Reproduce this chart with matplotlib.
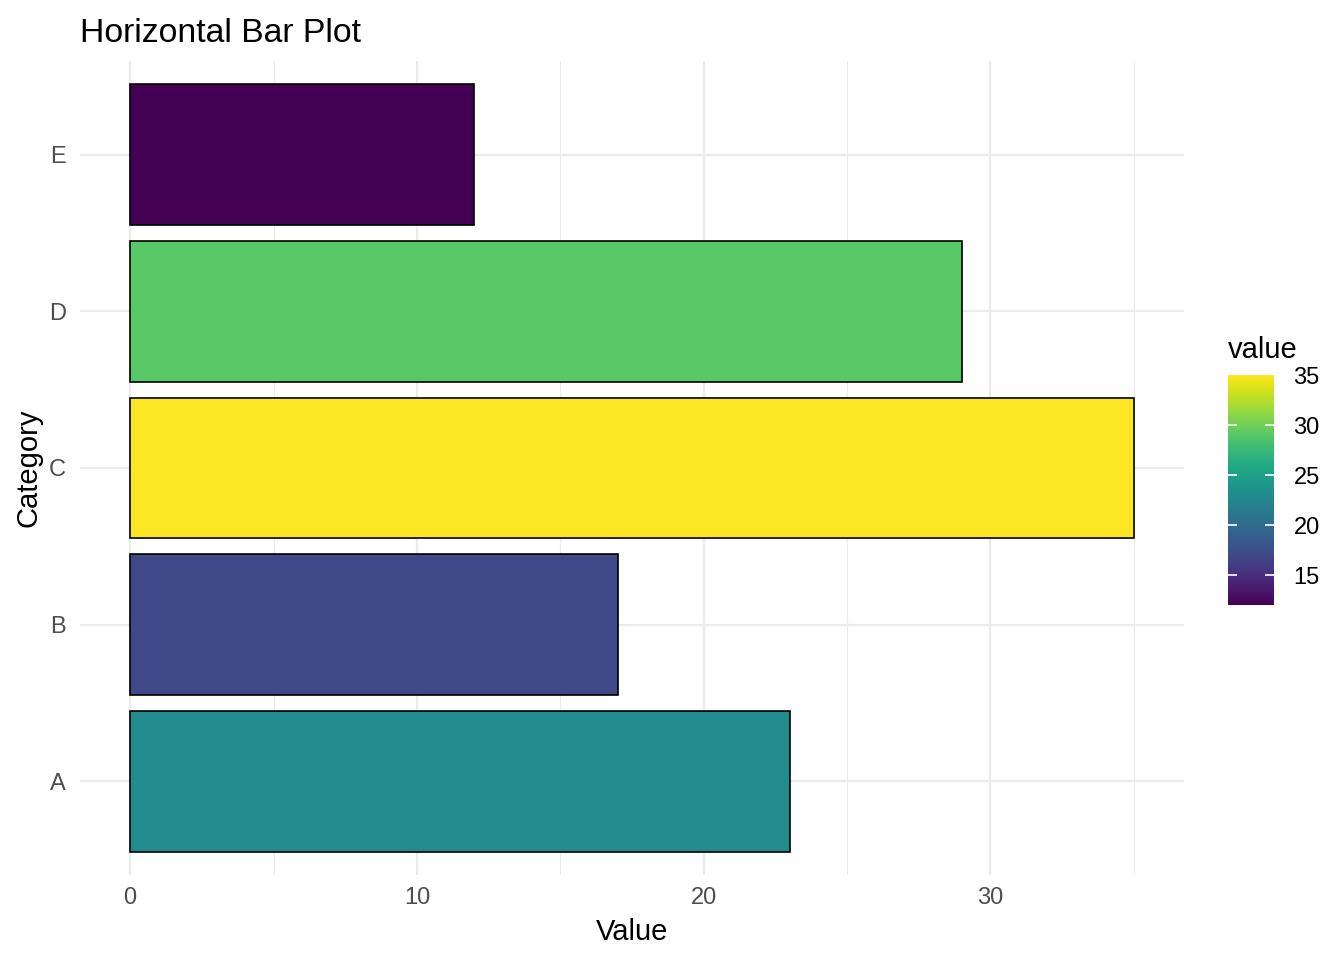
import matplotlib
matplotlib.use('Agg')
import matplotlib.pyplot as plt
import numpy as np
from matplotlib.colors import Normalize
from matplotlib.colorbar import ColorbarBase

plt.rcParams['font.family'] = ['Liberation Sans', 'DejaVu Sans']

categories = ['A', 'B', 'C', 'D', 'E']
values = [23, 17, 35, 29, 12]
x_ticks = [0, 10, 20, 30]
x_minor = [5, 15, 25, 35]
cbar_ticks = [15, 20, 25, 30, 35]

W, H = 1344, 960
fig = plt.figure(figsize=(W / 100, H / 100), dpi=100)
fig.patch.set_facecolor('white')

def px(l, t, r, b):
    return [l / W, 1 - b / H, (r - l) / W, (b - t) / H]

ax = fig.add_axes(px(80, 61, 1184, 875))
cmap = plt.get_cmap('viridis')
norm = Normalize(vmin=min(values), vmax=max(values))
ypos = np.arange(1, len(categories) + 1)
ax.barh(ypos, values, height=0.9, color=cmap(norm(values)),
        edgecolor='black', linewidth=1.2, zorder=3)

ax.set_xlim(-1.75, 36.75)
ax.set_ylim(0.4, 5.6)
ax.set_yticks(ypos)
ax.set_yticklabels(categories)
ax.set_xticks(x_ticks)
ax.set_xticks(x_minor, minor=True)
ax.grid(which='major', color='#EBEBEB', linewidth=1.6, zorder=0)
ax.grid(which='minor', axis='x', color='#EBEBEB', linewidth=0.8, zorder=0)
ax.set_axisbelow(True)
for s in ax.spines.values():
    s.set_visible(False)
ax.tick_params(which='both', length=0, labelsize=17, labelcolor='#4D4D4D')
ax.tick_params(axis='x', pad=9)
ax.tick_params(axis='y', pad=10)
ax.set_xlabel('Value', fontsize=21, labelpad=6)
ax.set_ylabel('Category', fontsize=21, labelpad=5)

fig.text(80 / W, 1 - 33 / H, 'Horizontal Bar Plot', fontsize=24.3,
         ha='left', va='center')

# colourbar legend, ticks drawn by hand so the top one (at the limit) stays hidden
cax = fig.add_axes(px(1228, 375, 1274, 605))
cb = ColorbarBase(cax, cmap=cmap, norm=norm, ticks=cbar_ticks)
cb.outline.set_visible(False)
cax.tick_params(which='both', length=0, labelsize=17, pad=14)
inner = [t for t in cbar_ticks if t < max(values)]
cax.hlines(inner, 0, 0.2, colors='white', linewidth=1.2, transform=cax.get_yaxis_transform())
cax.hlines(inner, 0.8, 1, colors='white', linewidth=1.2, transform=cax.get_yaxis_transform())
cax.set_title('value', fontsize=21, loc='left', pad=12)

fig.savefig('out.png', dpi=100)
